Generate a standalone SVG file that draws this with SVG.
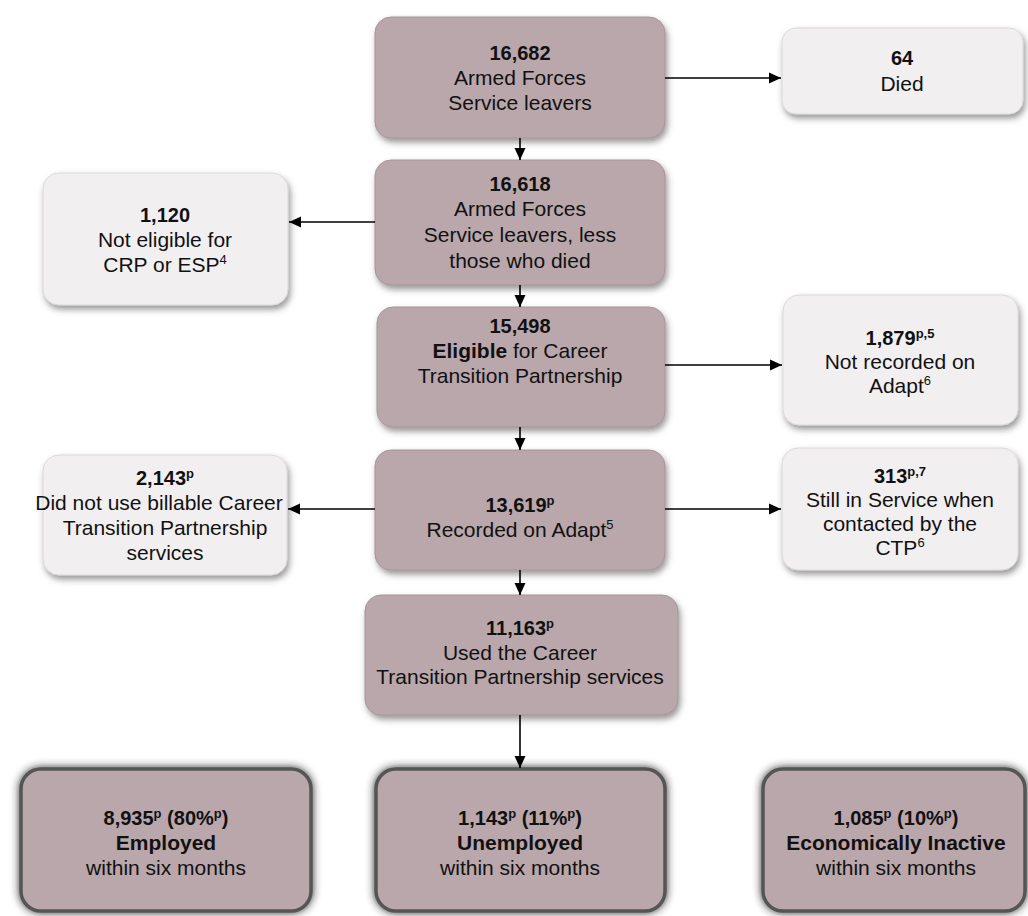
<svg xmlns="http://www.w3.org/2000/svg" width="1028" height="916" viewBox="0 0 1028 916">
<defs>
<filter id="sh" x="-10%" y="-15%" width="125%" height="140%">
<feDropShadow dx="2" dy="4" stdDeviation="3" flood-color="#444" flood-opacity="0.55"/>
</filter>
<filter id="shd" x="-10%" y="-15%" width="125%" height="135%">
<feDropShadow dx="0" dy="0" stdDeviation="4" flood-color="#222" flood-opacity="0.95"/>
</filter>
<marker id="ah" viewBox="0 0 12 12" refX="12" refY="6" markerWidth="12" markerHeight="12" markerUnits="userSpaceOnUse" orient="auto">
<path d="M0,0.5 L12,6 L0,11.5 z" fill="#000"/>
</marker>
<style>
.main{fill:#b9a7ab;stroke:#a89498;stroke-width:1;filter:url(#sh)}
.light{fill:#f2eff1;stroke:#dcd8da;stroke-width:1;filter:url(#sh)}
.bot{fill:#b9a7ab;stroke:#555;stroke-width:3.5;filter:url(#shd)}
text{font-family:"Liberation Sans",Arial,sans-serif;font-size:21px;fill:#111;text-anchor:middle}
.b{font-weight:bold}
.n{font-weight:bold;font-size:20px}
.s{font-size:13px}
.cn line{stroke:#000;stroke-width:1.6;marker-end:url(#ah)}
</style>
</defs>
<rect width="1028" height="916" fill="#fff"/>

<g id="n1">
<rect class="main" x="375" y="17" width="290" height="121" rx="16"/>
<text x="520" y="60" class="n">16,682</text>
<text x="520" y="85">Armed Forces</text>
<text x="520" y="110">Service leavers</text>
</g>

<g id="died">
<rect class="light" x="782" y="28" width="241" height="86" rx="14"/>
<text x="902" y="65" class="n">64</text>
<text x="902" y="91">Died</text>
</g>

<g id="n2">
<rect class="main" x="375" y="160" width="290" height="125" rx="16"/>
<text x="520" y="191" class="n">16,618</text>
<text x="520" y="216">Armed Forces</text>
<text x="520" y="242">Service leavers, less</text>
<text x="520" y="268">those who died</text>
</g>

<g id="noteligible">
<rect class="light" x="43" y="173" width="245" height="132" rx="16"/>
<text x="165" y="222" class="n">1,120</text>
<text x="165" y="247">Not eligible for</text>
<text x="165" y="272">CRP or ESP<tspan class="s" dy="-8">4</tspan></text>
</g>

<g id="n3">
<rect class="main" x="377" y="307" width="288" height="120" rx="16"/>
<text x="520" y="333" class="n">15,498</text>
<text x="520" y="358"><tspan class="b">Eligible</tspan> for Career</text>
<text x="520" y="383">Transition Partnership</text>
</g>

<g id="notrecorded">
<rect class="light" x="783" y="295" width="235" height="130" rx="16"/>
<text x="900" y="345"><tspan class="n">1,879</tspan><tspan class="s b" dy="-7">p,5</tspan></text>
<text x="900" y="369">Not recorded on</text>
<text x="900" y="393">Adapt<tspan class="s" dy="-8">6</tspan></text>
</g>

<g id="n4">
<rect class="main" x="375" y="450" width="290" height="120" rx="16"/>
<text x="520" y="512"><tspan class="n">13,619</tspan><tspan class="s b" dy="-7">p</tspan></text>
<text x="520" y="537">Recorded on Adapt<tspan class="s" dy="-8">5</tspan></text>
</g>

<g id="notused">
<rect class="light" x="43" y="455" width="244" height="120" rx="16"/>
<text x="165" y="485"><tspan class="n">2,143</tspan><tspan class="s b" dy="-7">p</tspan></text>
<text x="159" y="510">Did not use billable Career</text>
<text x="165" y="535">Transition Partnership</text>
<text x="165" y="560">services</text>
</g>

<g id="stillservice">
<rect class="light" x="782" y="448" width="236" height="122" rx="16"/>
<text x="900" y="483"><tspan class="n">313</tspan><tspan class="s b" dy="-7">p,7</tspan></text>
<text x="900" y="507">Still in Service when</text>
<text x="900" y="531">contacted by the</text>
<text x="900" y="555">CTP<tspan class="s" dy="-8">6</tspan></text>
</g>

<g id="n5">
<rect class="main" x="365" y="595" width="313" height="120" rx="16"/>
<text x="520" y="635"><tspan class="n">11,163</tspan><tspan class="s b" dy="-7">p</tspan></text>
<text x="520" y="660">Used the Career</text>
<text x="520" y="684">Transition Partnership services</text>
</g>

<g id="employed">
<rect class="bot" x="21" y="769" width="290" height="142" rx="20"/>
<text x="166" y="825"><tspan class="n">8,935</tspan><tspan class="s b" dy="-7">p</tspan><tspan class="n" dy="7"> (80%</tspan><tspan class="s b" dy="-7">p</tspan><tspan class="n" dy="7">)</tspan></text>
<text x="166" y="850" class="b">Employed</text>
<text x="166" y="875">within six months</text>
</g>

<g id="unemployed">
<rect class="bot" x="376" y="769" width="289" height="142" rx="20"/>
<text x="520" y="825"><tspan class="n">1,143</tspan><tspan class="s b" dy="-7">p</tspan><tspan class="n" dy="7"> (11%</tspan><tspan class="s b" dy="-7">p</tspan><tspan class="n" dy="7">)</tspan></text>
<text x="520" y="850" class="b">Unemployed</text>
<text x="520" y="875">within six months</text>
</g>

<g id="inactive">
<rect class="bot" x="763" y="769" width="262" height="142" rx="20"/>
<text x="896" y="825"><tspan class="n">1,085</tspan><tspan class="s b" dy="-7">p</tspan><tspan class="n" dy="7"> (10%</tspan><tspan class="s b" dy="-7">p</tspan><tspan class="n" dy="7">)</tspan></text>
<text x="896" y="850" class="b">Economically Inactive</text>
<text x="896" y="875">within six months</text>
</g>

<g id="connectors" class="cn">
<line x1="665" y1="78" x2="781" y2="78"/>
<line x1="520" y1="138" x2="520" y2="160"/>
<line x1="375" y1="222" x2="289" y2="222"/>
<line x1="520" y1="285" x2="520" y2="307"/>
<line x1="665" y1="365" x2="782" y2="365"/>
<line x1="520" y1="427" x2="520" y2="450"/>
<line x1="375" y1="509" x2="288" y2="509"/>
<line x1="665" y1="509" x2="781" y2="509"/>
<line x1="520" y1="570" x2="520" y2="595"/>
<line x1="520" y1="715" x2="520" y2="768"/>
</g>
</svg>
